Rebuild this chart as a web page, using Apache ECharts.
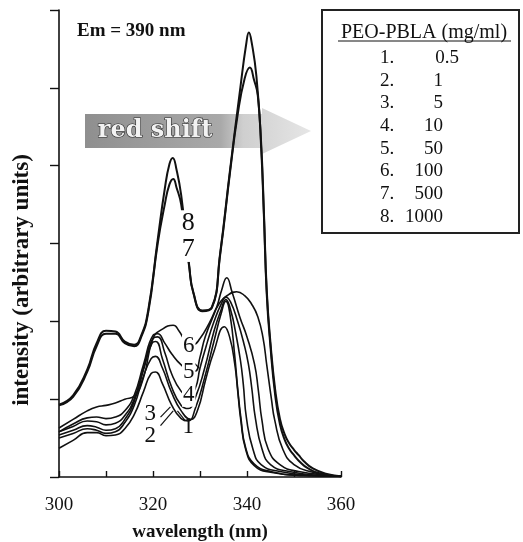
<!DOCTYPE html>
<html lang="en">
<head>
<meta charset="UTF-8">
<title>PEO-PBLA excitation spectra</title>
<style>html,body{margin:0;padding:0;background:#fff;}</style>
</head>
<body>
<div id="main" style="width:523px;height:542px;"></div>
<script src="https://cdn.jsdelivr.net/npm/echarts@6/dist/echarts.min.js"></script>
<script>
// concentrations of PEO-PBLA (mg/ml), one per curve
var conc = ['0.5', '1', '5', '10', '50', '100', '500', '1000'];

// [wavelength nm, intensity]
var curve1 = [[300,0.50],[303,0.56],[306,0.62],[308,0.60],[310,0.56],[312,0.58],[314,0.70],[316,0.92],[318,1.30],[319.6,1.52],[320.5,1.55],[322,1.40],[324,1.08],[326,0.85],[328,0.74],[329.5,0.86],[331.2,1.25],[333,1.62],[335.2,1.93],[336.3,1.80],[337.4,1.45],[338,1.12],[338.7,0.72],[339.7,0.36],[341.5,0.15],[345,0.06],[352,0.02],[360,0.01]];
var curve2 = [[300,0.37],[303,0.47],[306,0.57],[308,0.57],[310,0.53],[312,0.54],[314,0.62],[316,0.80],[318,1.10],[319.6,1.33],[320.5,1.35],[322,1.20],[324,0.92],[326,0.75],[327.5,0.72],[329,0.88],[331,1.28],[333,1.75],[334.5,2.10],[335.5,2.26],[336.4,2.08],[337.4,1.55],[338,1.15],[338.7,0.76],[339.7,0.38],[341.5,0.17],[345,0.07],[352,0.02],[360,0.01]];
var curve3 = [[300,0.54],[303,0.60],[306,0.66],[308,0.64],[310,0.60],[312,0.62],[314,0.74],[316,0.97],[318,1.38],[319.8,1.72],[320.6,1.74],[322,1.52],[324,1.15],[326,0.92],[327.5,0.88],[329,1.02],[331,1.40],[333,1.88],[334.5,2.15],[335.5,2.28],[336.5,2.15],[337.6,1.85],[338.6,1.50],[339.2,1.20],[339.9,0.75],[341.3,0.35],[343,0.16],[347,0.07],[354,0.02],[360,0.01]];
var curve4 = [[300,0.58],[303,0.65],[306,0.72],[308,0.71],[310,0.67],[312,0.69],[314,0.79],[316,1.00],[318,1.40],[320,1.78],[321,1.80],[322.5,1.60],[324,1.32],[326,1.10],[327.5,1.04],[329,1.14],[330,1.40],[331.5,1.72],[333,2.00],[334.5,2.22],[335.5,2.31],[336.5,2.25],[338,2.00],[339.4,1.70],[340.3,1.45],[341,1.15],[341.8,0.75],[343.2,0.36],[345,0.16],[349,0.07],[356,0.02],[360,0.01]];
var curve5 = [[300,0.58],[303,0.68],[306,0.76],[308,0.77],[310,0.75],[312,0.77],[314,0.85],[316,1.05],[318,1.45],[320,1.82],[321,1.84],[322.5,1.72],[324,1.58],[326,1.44],[328,1.36],[329,1.36],[330,1.54],[331.1,1.80],[333.6,2.19],[334.6,2.40],[335.7,2.56],[336.8,2.38],[338.5,2.05],[340,1.80],[341.6,1.45],[342.4,1.12],[343.2,0.72],[344.5,0.36],[347,0.16],[351,0.07],[358,0.02],[360,0.01]];
var curve6 = [[300,0.63],[303,0.74],[306,0.85],[308,0.90],[310,0.92],[312,0.95],[314,1.00],[316,1.04],[318,1.28],[320,1.78],[322,1.90],[324.3,1.95],[325.5,1.88],[327,1.74],[328.5,1.70],[330,1.78],[332,1.98],[334,2.22],[336,2.34],[337.8,2.38],[339.5,2.33],[341,2.22],[342.3,2.06],[343.4,1.79],[344.2,1.44],[345.2,1.00],[345.9,0.73],[347.6,0.36],[350,0.16],[354,0.06],[358,0.02],[360,0.01]];
var curve7 = [[300,0.92],[303,1.03],[306,1.35],[308,1.68],[310,1.84],[312,1.84],[314,1.72],[316,1.68],[317.5,1.80],[319,2.12],[321,3.00],[322.5,3.50],[323.5,3.76],[324.3,3.83],[325,3.72],[326,3.50],[327.7,2.70],[328.6,2.36],[330.5,2.13],[332.5,2.17],[334.3,2.86],[336.4,3.92],[338,4.65],[339.5,5.12],[340.6,5.26],[341.5,5.10],[342.3,4.90],[343,4.25],[343.6,3.35],[344.2,2.35],[345,1.67],[346,1.05],[347,0.68],[348,0.48],[349,0.36],[350,0.28],[351,0.21],[353,0.11],[356,0.04],[360,0.01]];
var curve8 = [[300,0.93],[303,1.05],[306,1.38],[308,1.72],[310,1.88],[312,1.87],[314,1.74],[316,1.70],[317.5,1.82],[319,2.15],[321,3.05],[322.5,3.70],[323.5,4.02],[324.2,4.10],[325,3.95],[326,3.62],[327.7,2.72],[328.6,2.37],[330.5,2.14],[332.5,2.18],[334.3,2.88],[336.4,3.95],[338.6,5.01],[339.8,5.55],[340.4,5.71],[341,5.58],[342,5.15],[343,4.30],[343.6,3.40],[344.2,2.40],[345,1.72],[346,1.12],[347,0.75],[348,0.55],[349,0.43],[350,0.35],[351,0.28],[352,0.21],[354,0.11],[357,0.04],[360,0.01]];
var curves = [curve1, curve2, curve3, curve4, curve5, curve6, curve7, curve8];

// curve number labels, in data units
var labelNum = ['1', '2', '3', '4', '5', '6', '7', '8'];
var labelX = [327.5, 319.4, 319.4, 327.6, 327.6, 327.6, 327.5, 327.5];
var labelY = [0.64, 0.53, 0.81, 1.05, 1.35, 1.68, 2.93, 3.26];

// little leader strokes next to labels 3, 2, 1, 5
var leaders = [
    [[321.6, 0.77], [323.7, 0.90]],
    [[321.6, 0.66], [324.3, 0.85]],
    [[326.9, 0.72], [325.2, 0.85]],
    [[328.7, 1.47], [329.8, 1.40]]
];

var xLabels = [300, 320, 340, 360];

var serif = '"Liberation Serif", "Times New Roman", serif';
var ink = '#111';

var chart = echarts.init(document.getElementById('main'));

var series = curves.map(function (d, i) {
    return {
        type: 'line',
        name: conc[i],
        data: d,
        smooth: 0.5,
        showSymbol: false,
        silent: true,
        lineStyle: {color: ink, width: i >= 6 ? 2 : 1.6},
        z: 3
    };
});

series.push({
    type: 'lines',
    coordinateSystem: 'cartesian2d',
    data: leaders.map(function (c) { return {coords: c}; }),
    lineStyle: {color: ink, width: 1.2, opacity: 1},
    z: 4
});

series.push({
    type: 'scatter',
    symbolSize: 0,
    itemStyle: {color: '#fff', opacity: 1},
    silent: true,
    data: labelNum.map(function (n, i) {
        return {
            value: [labelX[i], labelY[i]],
            name: n,
            label: {
                backgroundColor: i >= 3 ? '#fff' : 'transparent',
                fontSize: i >= 6 ? 26 : 23,
                color: ink
            }
        };
    }),
    label: {
        show: true,
        position: 'inside',
        formatter: '{b}',
        fontFamily: serif,
        color: ink,
        textBorderWidth: 0,
        padding: [0, 1]
    },
    z: 6
});

// legend table (concentration list)
var table = [
    {type: 'rect', shape: {x: 322, y: 10, width: 197, height: 223},
        style: {fill: '#fff', stroke: '#222', lineWidth: 2}, z: 10},
    {type: 'text', x: 424, y: 33, z: 11,
        style: {text: 'PEO-PBLA (mg/ml)', font: '20px ' + serif, fill: ink, align: 'center', verticalAlign: 'middle'}},
    {type: 'line', shape: {x1: 338, y1: 41, x2: 511, y2: 41}, style: {stroke: ink, lineWidth: 1}, z: 11}
];
conc.forEach(function (c, i) {
    var y = 58 + i * 22.7;
    table.push({type: 'text', x: 380, y: y, z: 11,
        style: {text: (i + 1) + '.', font: '19px ' + serif, fill: ink, align: 'left', verticalAlign: 'middle'}});
    table.push({type: 'text', x: c.indexOf('.') >= 0 ? 459 : 443, y: y, z: 11,
        style: {text: c, font: '19px ' + serif, fill: ink, align: 'right', verticalAlign: 'middle'}});
});

var graphics = [
    // red shift arrow
    {type: 'polygon', z: 0, silent: true,
        shape: {points: [[85, 114], [262, 114], [262, 108], [311, 131], [262, 154], [262, 148], [85, 148]]},
        style: {fill: new echarts.graphic.LinearGradient(0, 0, 1, 0, [
            {offset: 0, color: '#8f8f8f'}, {offset: 0.6, color: '#a9a9a9'},
            {offset: 0.7, color: '#cfcfcf'}, {offset: 1, color: '#e6e6e6'}])}},
    {type: 'text', x: 155, y: 131, z: 1,
        style: {text: 'red shift', font: 'bold 24px "DejaVu Serif", serif', fill: '#f2f2f2',
            stroke: '#2a2a2a', lineWidth: 1.2, align: 'center', verticalAlign: 'middle'}},
    {type: 'text', x: 77, y: 31, z: 11,
        style: {text: 'Em = 390 nm', font: 'bold 19px ' + serif, fill: ink, align: 'left', verticalAlign: 'middle'}},
    {type: 'text', x: 22, y: 280, rotation: Math.PI / 2, z: 11,
        style: {text: 'intensity (arbitrary units)', font: 'bold 23px ' + serif, fill: ink, align: 'center', verticalAlign: 'middle'}}
].concat(table);

var option = {
    backgroundColor: '#fff',
    animation: false,
    grid: {left: 59, right: 182, top: 10, bottom: 65, containLabel: false, outerBoundsMode: 'none'},
    xAxis: {
        type: 'value', min: 300, max: 360, interval: 10,
        axisLine: {lineStyle: {color: ink, width: 1.6}},
        axisTick: {inside: true, length: 6, lineStyle: {color: ink, width: 1.4}},
        axisLabel: {
            formatter: function (v) { return xLabels.indexOf(v) >= 0 ? String(v) : ''; },
            fontFamily: serif, fontSize: 19, color: ink, margin: 19
        },
        splitLine: {show: false},
        name: 'wavelength (nm)', nameLocation: 'middle', nameGap: 46,
        nameTextStyle: {fontFamily: serif, fontWeight: 'bold', fontSize: 19, color: ink}
    },
    yAxis: {
        type: 'value', min: 0, max: 6, interval: 1,
        axisLine: {show: true, lineStyle: {color: ink, width: 1.6}},
        axisTick: {show: true, inside: false, length: 9, lineStyle: {color: ink, width: 1.4}},
        axisLabel: {show: false},
        splitLine: {show: false}
    },
    graphic: graphics,
    series: series
};

chart.setOption(option);
</script>
</body>
</html>
